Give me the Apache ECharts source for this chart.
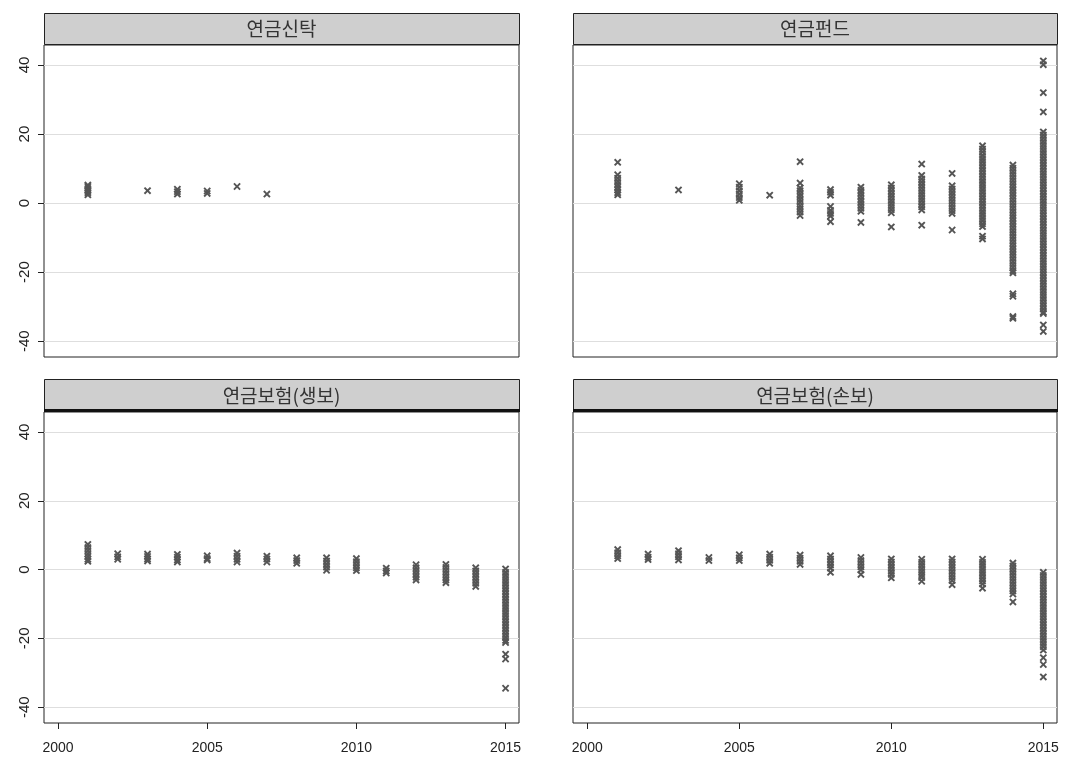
<!DOCTYPE html>
<html>
	<head>
		<meta charset="utf-8" />
		<title></title>
		<script src="https://cdn.jsdelivr.net/npm/echarts@6/dist/echarts.min.js"></script>
		<style>
			html, body { margin: 0; padding: 0; background: #fff; }
			#main { width: 1091px; height: 759px; }
		</style>
	</head>
	<body>
		<div id="main"></div>
		<script type="text/javascript">
			// 패널 제목
			var panelNames = ['연금신탁', '연금펀드', '연금보험(생보)', '연금보험(손보)'];
			var years = [2001, 2002, 2003, 2004, 2005, 2006, 2007, 2008, 2009, 2010, 2011, 2012, 2013, 2014, 2015];
			var xTicks = [2000, 2005, 2010, 2015];
			var yTicks = [-40, -20, 0, 20, 40];

			// 연도별 값 (years 순서)
			var trustVals = [
				[2.4, 3.0, 3.6, 4.2, 4.8, 5.2],
				[],
				[3.6],
				[2.6, 3.3, 4.0],
				[2.8, 3.5],
				[4.8],
				[2.6],
				[], [], [], [], [], [], [], []
			];
			var fundVals = [
				[11.8, 8.2, 7.2, 6.3, 5.4, 4.6, 3.8, 3.0, 2.4],
				[],
				[3.8],
				[],
				[5.6, 4.6, 3.6, 2.6, 1.6, 0.8],
				[2.3],
				[12.0, 5.8, 4.4, 3.6, 2.7, 1.9, 1.0, 0.2, -0.8, -1.7, -2.6, -3.6],
				[3.9, 3.1, 2.3, -1.0, -2.1, -3.0, -3.8, -5.4],
				[4.6, 3.7, 2.9, 2.0, 1.1, 0.3, -0.6, -1.5, -2.4, -5.6],
				[5.3, 4.4, 3.5, 2.6, 1.7, 0.8, -0.1, -1.0, -1.9, -2.8, -6.9],
				[11.3, 8.0, 7.0, 6.1, 5.2, 4.3, 3.4, 2.5, 1.6, 0.7, -0.2, -1.1, -2.0, -6.4],
				[8.6, 5.0, 4.1, 3.2, 2.3, 1.4, 0.5, -0.4, -1.3, -2.2, -3.0, -7.8],
				[16.6, 15.7, 14.8, 13.8, 12.9, 12.0, 11.1, 10.2, 9.3, 8.4, 7.5, 6.6, 5.7, 4.8, 3.9, 3.0,
				 2.1, 1.2, 0.3, -0.6, -1.5, -2.4, -3.3, -4.2, -5.1, -6.0, -6.8, -9.6, -10.4],
				[11.0, 10.1, 9.2, 8.3, 7.4, 6.5, 5.6, 4.7, 3.8, 2.9, 2.0, 1.1, 0.2, -0.7, -1.6, -2.5,
				 -3.4, -4.3, -5.2, -6.1, -7.0, -7.9, -8.8, -9.7, -10.6, -11.5, -12.4, -13.3, -14.2,
				 -15.1, -16.0, -16.9, -17.8, -18.7, -19.6, -20.2, -26.3, -27.0, -32.9, -33.4],
				[41.2, 40.1, 32.0, 26.4, 20.6, 19.7, 18.8, 17.9, 17.0, 16.1, 15.2, 14.3, 13.4, 12.5,
				 11.6, 10.7, 9.8, 8.9, 8.0, 7.1, 6.2, 5.3, 4.4, 3.5, 2.6, 1.7, 0.8, -0.1, -1.0, -1.9,
				 -2.8, -3.7, -4.6, -5.5, -6.4, -7.3, -8.2, -9.1, -10.0, -10.9, -11.8, -12.7, -13.6,
				 -14.5, -15.4, -16.3, -17.2, -18.1, -19.0, -19.9, -20.8, -21.7, -22.6, -23.5, -24.4,
				 -25.3, -26.2, -27.1, -28.0, -28.9, -29.8, -30.7, -31.6, -32.0, -35.3, -37.2]
			];
			var lifeVals = [
				[7.3, 6.4, 5.5, 4.6, 3.8, 3.0, 2.4],
				[4.6, 3.7, 3.0],
				[4.5, 3.8, 3.1, 2.5],
				[4.4, 3.6, 2.8, 2.2],
				[4.0, 3.2, 2.8],
				[4.8, 3.9, 3.0, 2.2],
				[3.9, 3.1, 2.2],
				[3.4, 2.6, 1.8],
				[3.4, 2.5, 1.6, 0.7, -0.2],
				[3.2, 2.3, 1.4, 0.5, -0.3],
				[0.4, -0.4, -1.0],
				[1.4, 0.5, -0.4, -1.3, -2.2, -3.0],
				[1.5, 0.6, -0.3, -1.2, -2.1, -3.0, -3.8],
				[0.5, -0.4, -1.3, -2.2, -3.1, -4.0, -4.9],
				[0.2, -0.8, -1.7, -2.6, -3.5, -4.4, -5.3, -6.2, -7.1, -8.0, -8.9, -9.8, -10.7, -11.6,
				 -12.5, -13.4, -14.3, -15.2, -16.1, -17.0, -17.9, -18.8, -19.7, -20.6, -21.2, -24.6,
				 -26.0, -34.5]
			];
			var nonlifeVals = [
				[5.8, 4.9, 4.0, 3.2],
				[4.5, 3.6, 2.9],
				[5.5, 4.6, 3.7, 2.8],
				[3.5, 2.6],
				[4.3, 3.4, 2.6],
				[4.5, 3.6, 2.7, 1.8],
				[4.2, 3.3, 2.4, 1.5],
				[4.0, 3.1, 2.2, 1.3, 0.4, -0.8],
				[3.5, 2.6, 1.7, 0.8, -0.1, -1.4],
				[3.1, 2.2, 1.3, 0.4, -0.5, -1.4, -2.4],
				[3.0, 2.1, 1.2, 0.3, -0.6, -1.5, -2.3, -3.4],
				[3.1, 2.2, 1.3, 0.4, -0.5, -1.4, -2.3, -3.2, -4.4],
				[3.0, 2.1, 1.2, 0.3, -0.6, -1.5, -2.4, -3.3, -4.2, -5.4],
				[1.9, 1.0, 0.1, -0.8, -1.7, -2.6, -3.5, -4.4, -5.3, -6.2, -7.1, -9.4],
				[-0.8, -1.7, -2.6, -3.5, -4.4, -5.3, -6.2, -7.1, -8.0, -8.9, -9.8, -10.7, -11.6, -12.5,
				 -13.4, -14.3, -15.2, -16.1, -17.0, -17.9, -18.8, -19.7, -20.6, -21.5, -22.4, -23.4,
				 -25.6, -27.6, -31.2]
			];
			var panelVals = [trustVals, fundVals, lifeVals, nonlifeVals];

			// 패널 위치
			var panels = [
				{left: 44, top: 45, width: 475, height: 312, stripTop: 13},
				{left: 573, top: 45, width: 484, height: 312, stripTop: 13},
				{left: 44, top: 412, width: 475, height: 311, stripTop: 379},
				{left: 573, top: 412, width: 484, height: 311, stripTop: 379}
			];

			// x 모양 마커
			var cross = 'path://M0,1.8L1.8,0L5,3.2L8.2,0L10,1.8L6.8,5L10,8.2L8.2,10L5,6.8L1.8,10L0,8.2L3.2,5Z';

			var myChart = echarts.init(document.getElementById('main'));

			var grids = [], xAxes = [], yAxes = [], series = [], graphics = [];
			panels.forEach(function(p, i){
				var isBottom = i >= 2, isLeft = i % 2 === 0;
				grids.push({
					left: p.left, top: p.top, width: p.width, height: p.height,
					show: true, borderColor: '#222', borderWidth: 1, backgroundColor: '#fff'
				});
				xAxes.push({
					type: 'value', gridIndex: i, min: 1999.53, max: 2015.45,
					axisLine: {show: false, onZero: false},
					splitLine: {show: false},
					axisTick: {show: isBottom, length: 6, lineStyle: {color: '#222'}, customValues: xTicks},
					axisLabel: {show: isBottom, customValues: xTicks, fontSize: 14, color: '#222',
						margin: 18, fontFamily: 'Arial, Liberation Sans, sans-serif',
						formatter: function(v){ return String(v); }}
				});
				yAxes.push({
					type: 'value', gridIndex: i, min: -44.6, max: 45.8, splitNumber: 5,
					axisLine: {show: false, onZero: false},
					splitLine: {show: true, lineStyle: {color: '#dedede', width: 1}},
					axisTick: {show: isLeft, length: 6, lineStyle: {color: '#222'}, customValues: yTicks},
					axisLabel: {show: isLeft, customValues: yTicks, rotate: 90, fontSize: 15, color: '#222',
						margin: 12, fontFamily: 'Arial, Liberation Sans, sans-serif'}
				});
				var pts = [];
				years.forEach(function(y, k){
					panelVals[i][k].forEach(function(v){ pts.push([y, v]); });
				});
				series.push({
					type: 'scatter', xAxisIndex: i, yAxisIndex: i,
					symbol: cross, symbolSize: 7.5,
					itemStyle: {color: '#555555', opacity: 1},
					data: pts, silent: true
				});
				// 스트립 헤더
				graphics.push({
					type: 'rect',
					shape: {x: p.left + 0.5, y: p.stripTop + 0.5, width: p.width, height: p.top - p.stripTop - 1},
					style: {fill: '#cfcfcf', stroke: '#222', lineWidth: 1}
				});
				if (isBottom) {
					graphics.push({
						type: 'line',
						shape: {x1: p.left, y1: p.top - 1.5, x2: p.left + p.width + 1, y2: p.top - 1.5},
						style: {stroke: '#111', lineWidth: 3}
					});
				}
				graphics.push({
					type: 'text',
					x: p.left + p.width / 2, y: (p.stripTop + p.top) / 2,
					style: {text: panelNames[i], fill: '#333', fontSize: 19,
						fontFamily: 'Noto Sans CJK KR', align: 'center', verticalAlign: 'middle'}
				});
			});

			myChart.setOption({
				animation: false,
				backgroundColor: '#fff',
				grid: grids,
				xAxis: xAxes,
				yAxis: yAxes,
				series: series,
				graphic: graphics
			});
		</script>
	</body>
</html>
